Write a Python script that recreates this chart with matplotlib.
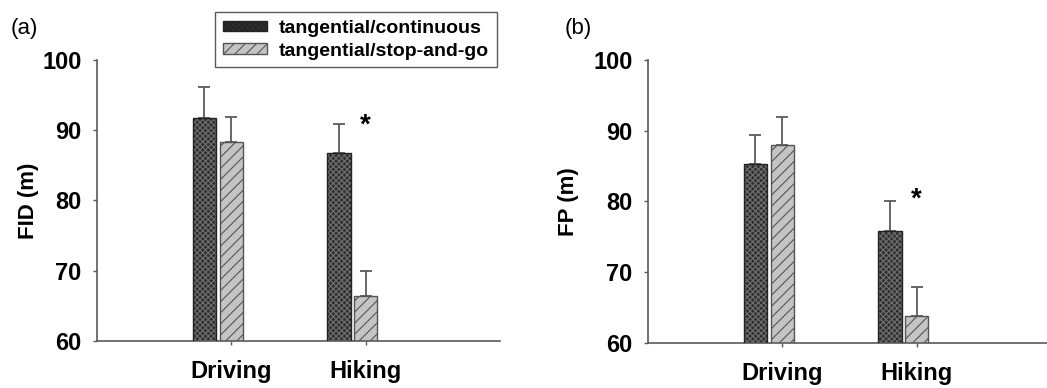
import matplotlib.pyplot as plt
import numpy as np
from matplotlib.patches import Patch

plt.rcParams['font.family'] = ['Liberation Sans', 'DejaVu Sans']
plt.rcParams['hatch.linewidth'] = 0.8

categories = ['Driving', 'Hiking']
series_names = ['tangential/continuous', 'tangential/stop-and-go']

# panel (a) FID
fid_cont = [91.8, 86.8]
fid_cont_err = [4.3, 4.1]
fid_stop = [88.3, 66.4]
fid_stop_err = [3.6, 3.5]

# panel (b) FP
fp_cont = [85.3, 75.8]
fp_cont_err = [4.1, 4.2]
fp_stop = [88.0, 63.8]
fp_stop_err = [4.0, 4.1]

star_y = [90.6, 80.2]

dark_face = '#2f2f2f'
dark_hatch = '#707070'
light_face = '#c4c4c4'
light_hatch = '#555555'
axis_col = '#5a5a5a'

fig = plt.figure(figsize=(10.47, 3.88), dpi=100)
ax_a = fig.add_axes([0.0926, 0.1211, 0.385, 0.7243])
ax_b = fig.add_axes([0.6189, 0.1160, 0.385, 0.7294])

x = np.arange(len(categories))
w = 0.175


def draw_panel(ax, cont, cont_err, stop, stop_err, ylab, sy, label_x):
    xc = x - 0.2
    # hatch layer
    b1 = ax.bar(xc, cont, w, color=dark_face, hatch='xxxxxx',
                edgecolor=dark_hatch, linewidth=0, zorder=2)
    b2 = ax.bar(x, stop, w, color=light_face, hatch='///',
                edgecolor=light_hatch, linewidth=0, zorder=2)
    # outlines
    ax.bar(xc, cont, w, fill=False, edgecolor='#222222', linewidth=1.0, zorder=3)
    ax.bar(x, stop, w, fill=False, edgecolor='#555555', linewidth=1.0, zorder=3)
    # upper error bars only
    ax.errorbar(xc, cont, yerr=[np.zeros(len(cont)), cont_err], fmt='none',
                ecolor=axis_col, elinewidth=1.3, capsize=4, capthick=1.3, zorder=1)
    ax.errorbar(x, stop, yerr=[np.zeros(len(stop)), stop_err], fmt='none',
                ecolor=axis_col, elinewidth=1.3, capsize=4, capthick=1.3, zorder=1)
    ax.text(x[1], sy, '*', ha='center', va='center', fontsize=20,
            fontweight='bold')

    ax.set_xlim(-1, 2)
    ax.set_ylim(60, 100)
    ax.set_yticks([60, 70, 80, 90, 100])
    ax.set_xticks(x)
    ax.set_xticklabels(categories)
    for s in ['top', 'right']:
        ax.spines[s].set_visible(False)
    for s in ['left', 'bottom']:
        ax.spines[s].set_color(axis_col)
        ax.spines[s].set_linewidth(1.2)
    ax.tick_params(axis='y', length=3, width=1, color=axis_col, pad=8,
                   labelsize=17)
    ax.tick_params(axis='x', length=3, width=1, color=axis_col, pad=11,
                   labelsize=17)
    for t in ax.get_xticklabels() + ax.get_yticklabels():
        t.set_fontweight('bold')
    ax.set_ylabel(ylab, fontsize=16, fontweight='bold')
    ax.yaxis.set_label_coords(label_x, 0.5)
    return b1, b2


draw_panel(ax_a, fid_cont, fid_cont_err, fid_stop, fid_stop_err,
           'FID (m)', star_y[0], -0.145)
draw_panel(ax_b, fp_cont, fp_cont_err, fp_stop, fp_stop_err,
           'FP (m)', star_y[1], -0.17)

fig.text(0.010, 0.912, '(a)', fontsize=16)
fig.text(0.539, 0.912, '(b)', fontsize=16)

handles = [Patch(facecolor=dark_face, hatch='xxxxxx', edgecolor='#222222'),
           Patch(facecolor=light_face, hatch='///', edgecolor='#555555')]
leg = fig.legend(handles, series_names, loc='upper left',
                 bbox_to_anchor=(0.2053, 0.969), borderaxespad=0,
                 fancybox=False, edgecolor=axis_col, framealpha=1,
                 handlelength=2.3, handleheight=0.45, handletextpad=0.6,
                 labelspacing=0.3, borderpad=0.4,
                 prop={'size': 14, 'weight': 'bold'})
leg.get_frame().set_linewidth(1.0)

fig.savefig('out.png', dpi=100)
